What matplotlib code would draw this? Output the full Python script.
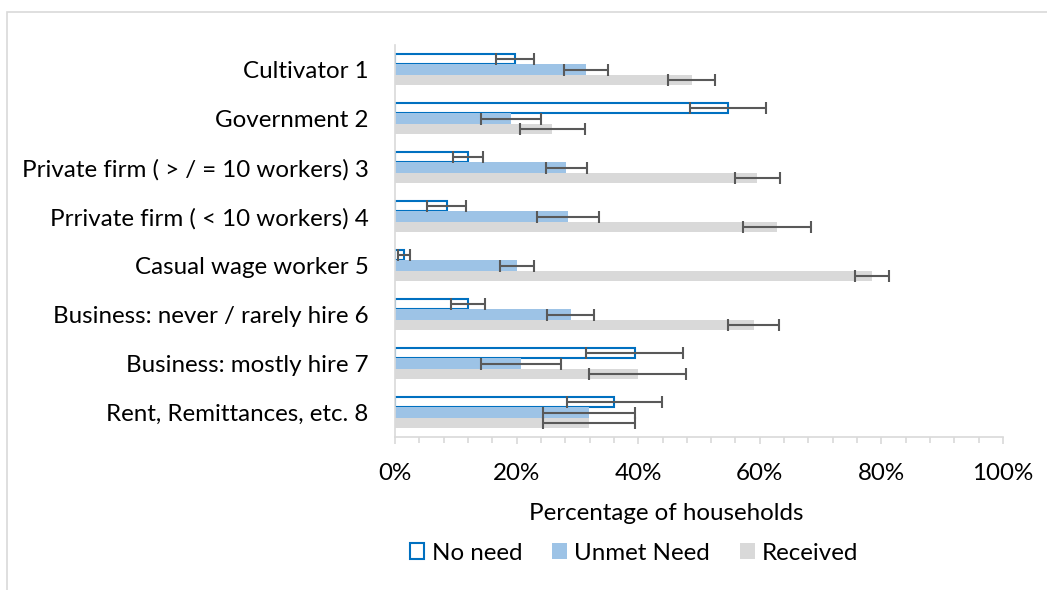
import numpy as np
import matplotlib.pyplot as plt
from matplotlib.patches import Patch, Rectangle

plt.rcParams['font.family'] = ['Lato', 'DejaVu Sans']

categories = ["Cultivator 1", "Government 2", "Private firm ( > / = 10 workers) 3",
              "Prrivate firm ( < 10 workers) 4", "Casual wage worker 5",
              "Business: never / rarely hire 6", "Business: mostly hire 7",
              "Rent, Remittances, etc. 8"]

# percentages of households, with error bar half-widths
no_need = [19.7, 54.8, 12.0, 8.5, 1.5, 12.0, 39.4, 36.1]
no_need_err = [3.1, 6.2, 2.5, 3.2, 1.0, 2.8, 8.0, 7.8]
unmet = [31.4, 19.1, 28.2, 28.5, 20.0, 28.9, 20.7, 31.9]
unmet_err = [3.6, 4.9, 3.4, 5.1, 2.8, 3.9, 6.6, 7.5]
received = [48.8, 25.9, 59.6, 62.9, 78.4, 59.0, 39.9, 31.9]
received_err = [3.9, 5.4, 3.7, 5.6, 2.8, 4.2, 8.0, 7.5]

blue = '#0070C0'
light_blue = '#9DC3E6'
grey = '#D9D9D9'
err_col = '#595959'
axis_col = '#D9D9D9'
fs = 17.4

fig = plt.figure(figsize=(10.47, 5.9), dpi=100)
ax = fig.add_axes([395 / 1047, 1 - 437 / 590, (1003 - 395) / 1047, 392 / 590])

y = np.arange(len(categories))
h = 0.205

ax.barh(y - h, no_need, height=h, color='white', edgecolor=blue, linewidth=1.5, zorder=2)
ax.barh(y, unmet, height=h, color=light_blue, zorder=2)
ax.barh(y + h, received, height=h, color=grey, zorder=2)

eb = dict(fmt='none', ecolor=err_col, elinewidth=1.5, capsize=4, capthick=1.5, zorder=3)
ax.errorbar(no_need, y - h, xerr=no_need_err, **eb)
ax.errorbar(unmet, y, xerr=unmet_err, **eb)
ax.errorbar(received, y + h, xerr=received_err, **eb)

ax.set_ylim(len(categories) - 0.5, -0.5)
ax.set_yticks(y)
ax.set_yticklabels(categories, fontsize=fs)
ax.tick_params(axis='y', length=0, pad=19)

ax.set_xlim(0, 100)
ax.set_xticks(np.arange(0, 101, 20))
ax.set_xticklabels(['{}%'.format(v) for v in range(0, 101, 20)], fontsize=fs)
ax.set_xticks(np.arange(0, 101, 4), minor=True)
ax.tick_params(axis='x', which='major', length=5, width=1.2, color=axis_col, pad=14)
ax.tick_params(axis='x', which='minor', length=4, width=1.2, color=axis_col)

for s in ['top', 'right']:
    ax.spines[s].set_visible(False)
for s in ['left', 'bottom']:
    ax.spines[s].set_color(axis_col)
    ax.spines[s].set_linewidth(1.2)

ax.set_xlabel('Percentage of households', fontsize=fs)
ax.xaxis.label.set_va('center')
ax.xaxis.set_label_coords((666 - 395) / 608, -(513 - 437) / 392)

handles = [Patch(facecolor='white', edgecolor=blue, linewidth=1.5, label='No need'),
           Patch(facecolor=light_blue, label='Unmet Need'),
           Patch(facecolor=grey, label='Received')]
fig.legend(handles=handles, loc='center', bbox_to_anchor=(634 / 1047, 1 - 553 / 590),
           ncol=3, frameon=False, fontsize=fs, handlelength=0.6, handleheight=0.6,
           handletextpad=0.3, columnspacing=1.25)

# chart area outline
fig.patches.append(Rectangle((7 / 1047, -0.1), 1.0, 0.1 + 1 - 12 / 590, transform=fig.transFigure,
                             fill=False, edgecolor=axis_col, linewidth=1.2))

plt.savefig('out.png', dpi=100)
